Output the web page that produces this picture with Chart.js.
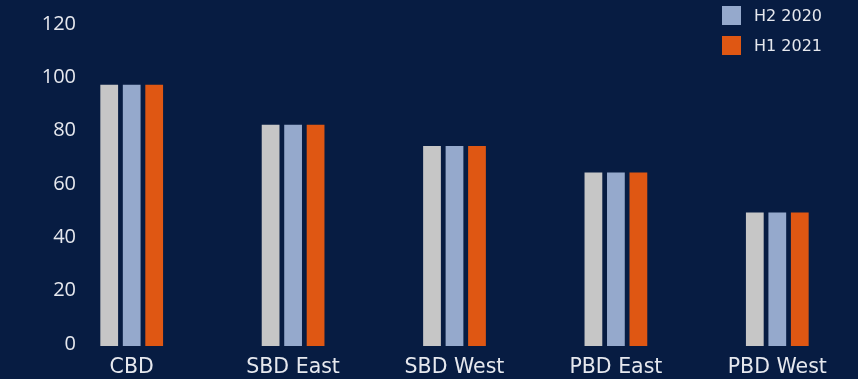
<!DOCTYPE html>
<html>
<head>
<meta charset="utf-8">
<script src="https://cdn.jsdelivr.net/npm/chart.js@4.4.1/dist/chart.umd.min.js"></script>
<style>
    html, body { margin: 0; padding: 0; background: #071c42; overflow: hidden; }
    .wrap { position: relative; width: 858px; height: 379px; }
    .legend { position: absolute; left: 722px; top: -30px; font-family: "DejaVu Sans", sans-serif; font-size: 16px; color: #e6e8ee; }
    .legend div { display: flex; align-items: center; height: 30px; }
    .legend span { display: inline-block; width: 19px; height: 19px; margin-right: 13px; }
</style>
</head>
<body>
<div class="wrap">
    <canvas class="barChart" width="858" height="379"></canvas>
    <div class="legend"></div>
</div>
<script>
const categories = ['CBD', 'SBD East', 'SBD West', 'PBD East', 'PBD West'];
const seriesNames = ['H1 2020', 'H2 2020', 'H1 2021'];
const h1_2020 = [98, 83, 75, 65, 50];
const h2_2020 = [98, 83, 75, 65, 50];
const h1_2021 = [98, 83, 75, 65, 50];
const yTicks = [0, 20, 40, 60, 80, 100, 120];

const colors = ['#c6c6c6', '#95a9cc', '#df5713'];
const values = [h1_2020, h2_2020, h1_2021];

document.addEventListener('DOMContentLoaded', () => {
    let ctx = document.querySelector('.barChart').getContext('2d');
    let textColor = '#e6e8ee';

    let datasets = seriesNames.map((name, i) => ({
        label: name,
        data: values[i],
        backgroundColor: colors[i],
        borderWidth: 0,
        categoryPercentage: 0.418,
        barPercentage: 0.79
    }));

    //y labels sit over the left edge of the plot, so draw them here instead of clipping in the axis box
    let yLabels = {
        id: 'yLabels',
        afterDraw(chart) {
            let c = chart.ctx;
            let y = chart.scales.y;
            c.save();
            c.fillStyle = textColor;
            c.font = '20px "Open Sans"';
            c.textAlign = 'right';
            c.textBaseline = 'middle';
            yTicks.forEach(v => c.fillText(String(v), 76, y.getPixelForValue(v) - 2));
            c.restore();
        }
    };

    let barChart = new Chart(ctx, {
        type: 'bar',
        data: { labels: categories, datasets: datasets },
        options: {
            responsive: false,
            animation: false,
            layout: { padding: { top: 26, right: 0, bottom: -9.5, left: 51 } },
            plugins: { legend: { display: false }, tooltip: { enabled: false } },
            scales: {
                x: {
                    grid: { display: false, drawTicks: false },
                    border: { display: false },
                    ticks: { color: textColor, padding: 9, font: { family: 'DejaVu Sans', size: 20.5 } }
                },
                y: {
                    display: false,
                    min: 0,
                    max: yTicks[yTicks.length - 1]
                }
            }
        },
        plugins: [yLabels]
    });

    //legend (first item sits above the visible area)
    let legend = document.querySelector('.legend');
    barChart.data.datasets.forEach(ds => {
        let row = document.createElement('div');
        row.innerHTML = `<span style="background:${ds.backgroundColor}"></span>${ds.label}`;
        legend.appendChild(row);
    });
});
</script>
</body>
</html>
